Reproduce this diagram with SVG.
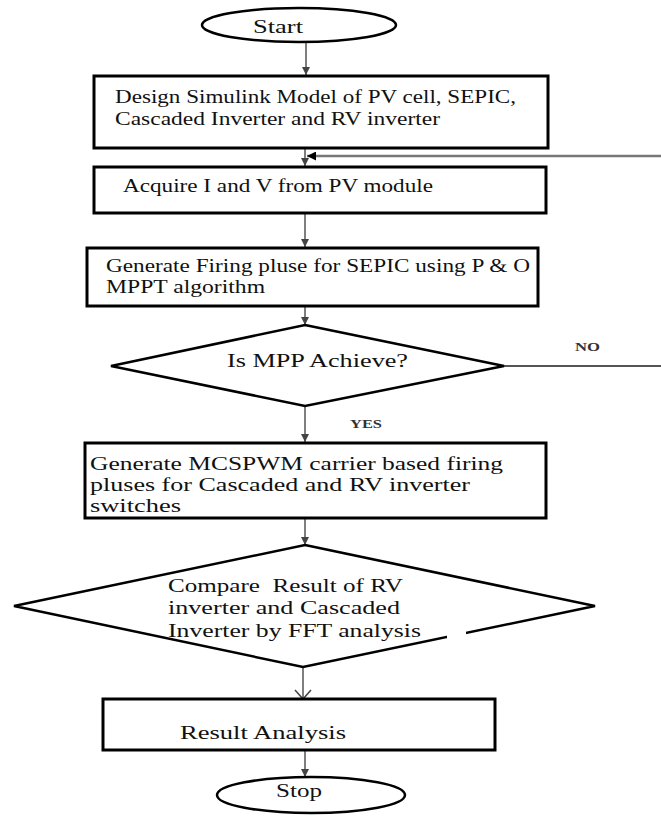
<svg xmlns="http://www.w3.org/2000/svg" width="661" height="816" viewBox="0 0 661 816">
<defs>
<marker id="ah" viewBox="0 0 10 10" refX="10" refY="5" markerWidth="8" markerHeight="8" markerUnits="userSpaceOnUse" orient="auto">
<path d="M0,0 L10,5 L0,10 z" fill="#444"/>
</marker>
<marker id="ahb" viewBox="0 0 10 10" refX="10" refY="5" markerWidth="11" markerHeight="9" markerUnits="userSpaceOnUse" orient="auto">
<path d="M0,0 L10,5 L0,10 z" fill="#000"/>
</marker>
<marker id="aho" viewBox="0 0 20 20" refX="18" refY="10" markerWidth="20" markerHeight="20" markerUnits="userSpaceOnUse" orient="auto">
<path d="M9,2 L18,10 L9,18" fill="none" stroke="#444" stroke-width="1.5"/>
</marker>
</defs>
<style>
text{font-family:"Liberation Serif","Times New Roman",serif;font-size:18px;fill:#111}
.box{fill:#fff;stroke:#000;stroke-width:3}
.term{fill:#fff;stroke:#000;stroke-width:2.5}
.dec{fill:#fff;stroke:#000;stroke-width:2.5;stroke-linejoin:miter}
.c{stroke:#555;stroke-width:1.5;fill:none}
.lbl{font-size:12px;font-weight:bold;fill:#333}
</style>
<rect width="661" height="816" fill="#fff"/>
<g id="connectors">
<line class="c" x1="306" y1="43" x2="306" y2="75" marker-end="url(#ah)"/>
<line class="c" x1="305" y1="149" x2="305" y2="166" marker-end="url(#ah)"/>
<line class="c" x1="305" y1="214" x2="305" y2="247" marker-end="url(#ah)"/>
<line class="c" x1="305" y1="307" x2="305" y2="325" marker-end="url(#ah)"/>
<line class="c" x1="305" y1="406" x2="305" y2="442" marker-end="url(#ah)"/>
<line class="c" x1="305" y1="519" x2="305" y2="545" marker-end="url(#ah)"/>
<line class="c" x1="303" y1="667" x2="303" y2="699" marker-end="url(#aho)"/>
<line class="c" x1="305" y1="751" x2="305" y2="777" marker-end="url(#ah)"/>
<line x1="661" y1="156" x2="307" y2="156" stroke="#777" stroke-width="2.5" marker-end="url(#ahb)"/>
<line x1="504" y1="366" x2="661" y2="366" stroke="#555" stroke-width="2"/>
<text class="lbl" x="575" y="351" textLength="25" lengthAdjust="spacingAndGlyphs">NO</text>
<text class="lbl" x="350" y="428" textLength="32" lengthAdjust="spacingAndGlyphs">YES</text>
</g>
<g id="start">
<ellipse class="term" cx="299" cy="25" rx="97" ry="17"/>
<text x="253" y="33" textLength="50" lengthAdjust="spacingAndGlyphs">Start</text>
</g>
<g id="design">
<rect class="box" x="94" y="76" width="454" height="72"/>
<text x="115" y="103" textLength="401" lengthAdjust="spacingAndGlyphs">Design Simulink Model of PV cell, SEPIC,</text>
<text x="115" y="125" textLength="325" lengthAdjust="spacingAndGlyphs">Cascaded Inverter and RV inverter</text>
</g>
<g id="acquire">
<rect class="box" x="94" y="167" width="452" height="46"/>
<text x="123" y="192" textLength="310" lengthAdjust="spacingAndGlyphs">Acquire I and V from PV module</text>
</g>
<g id="firing">
<rect class="box" x="87" y="248" width="451" height="58"/>
<text x="106" y="272" textLength="424" lengthAdjust="spacingAndGlyphs">Generate Firing pluse for SEPIC using P &amp; O</text>
<text x="106" y="293" textLength="159" lengthAdjust="spacingAndGlyphs">MPPT algorithm</text>
</g>
<g id="mpp">
<polygon class="dec" points="305,325 504,366 305,406 111,366"/>
<text x="227" y="367" textLength="181" lengthAdjust="spacingAndGlyphs">Is MPP Achieve?</text>
</g>
<g id="mcspwm">
<rect class="box" x="85" y="443" width="461" height="75"/>
<text x="90" y="470" textLength="413" lengthAdjust="spacingAndGlyphs">Generate MCSPWM carrier based firing</text>
<text x="90" y="491" textLength="380" lengthAdjust="spacingAndGlyphs">pluses for Cascaded and RV inverter</text>
<text x="90" y="512" textLength="91" lengthAdjust="spacingAndGlyphs">switches</text>
</g>
<g id="compare">
<polygon class="dec" points="305,545 595,606 303,667 14,606"/>
<rect x="447" y="627" width="19" height="15" fill="#fff"/>
<text x="168" y="592" textLength="235" lengthAdjust="spacingAndGlyphs" xml:space="preserve">Compare  Result of RV</text>
<text x="168" y="614" textLength="232" lengthAdjust="spacingAndGlyphs">inverter and Cascaded</text>
<text x="168" y="637" textLength="253" lengthAdjust="spacingAndGlyphs">Inverter by FFT analysis</text>
</g>
<g id="result">
<rect class="box" x="103" y="699" width="392" height="51"/>
<text x="180" y="739" textLength="166" lengthAdjust="spacingAndGlyphs">Result Analysis</text>
</g>
<g id="stop">
<ellipse class="term" cx="311" cy="795" rx="94" ry="18"/>
<text x="276" y="797" textLength="46" lengthAdjust="spacingAndGlyphs">Stop</text>
</g>
</svg>
